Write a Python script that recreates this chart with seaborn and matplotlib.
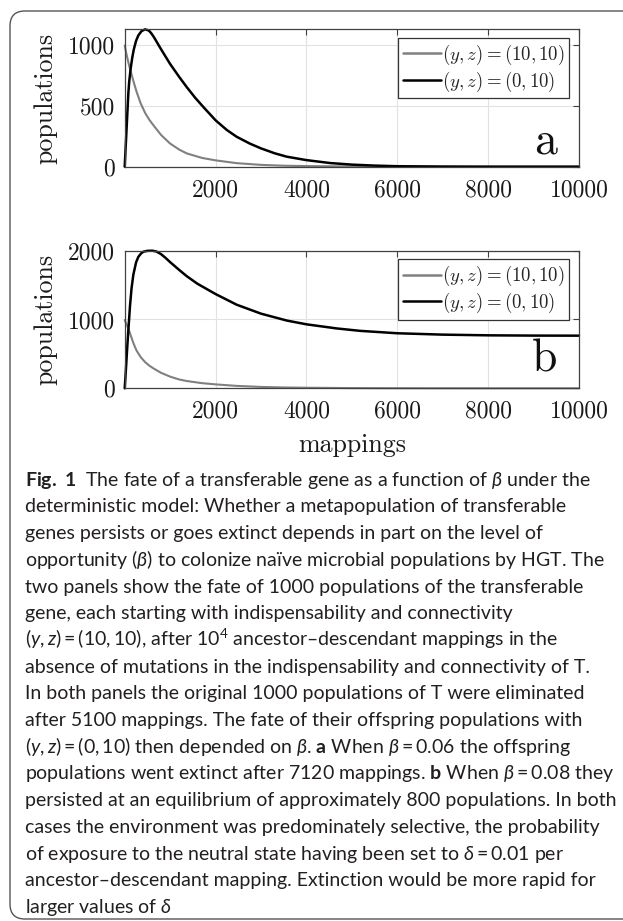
import matplotlib
matplotlib.use("Agg")
import matplotlib.pyplot as plt
import seaborn as sns
import numpy as np
import pandas as pd
from matplotlib.patches import FancyBboxPatch

# ---------------- data ----------------
x_ticks = [2000, 4000, 6000, 8000, 10000]
x_tick_labels = ["2000", "4000", "6000", "8000", "10000"]
legend_labels = [r"$(y,z) = (10,10)$", r"$(y,z) = (0,10)$"]

# panel a (beta = 0.06)
a_gray_x = [0, 40, 80, 117, 170, 220, 264, 350, 450, 540, 631, 800, 998, 1200, 1365, 1700, 2000, 2465, 3000,
            3500, 4000, 5000, 6000, 8000, 10000]
a_gray_y = [992, 920, 855, 802, 730, 665, 611, 520, 440, 385, 340, 260, 190, 140, 109, 72, 52, 29, 15,
            8, 5, 2, 0.5, 0, 0]
a_black_x = [0, 20, 40, 60, 80, 100, 130, 165, 200, 250, 300, 370, 448, 530, 580, 631, 700, 800, 998, 1200, 1365,
             1550, 1731, 2000, 2250, 2465, 2750, 3000, 3300, 3566, 4000, 4519, 5000, 5500, 6000, 7000, 8000, 10000]
a_black_y = [0, 150, 300, 450, 600, 700, 800, 890, 960, 1030, 1075, 1110, 1125, 1115, 1095, 1068, 1025, 962, 842,
             735, 652, 565, 489, 380, 300, 245, 190, 150, 110, 82, 54, 30, 17, 9, 4, 1, 0, 0]
a_yticks = [0, 500, 1000]

# panel b (beta = 0.08)
b_gray_x = [0, 30, 60, 90, 117, 150, 190, 230, 264, 350, 450, 540, 631, 800, 998, 1200, 1365, 1700, 2000, 2465,
            3000, 3500, 4000, 5000, 6000, 8000, 10000]
b_gray_y = [993, 945, 900, 850, 800, 735, 660, 595, 545, 455, 380, 330, 290, 225, 170, 128, 106, 75, 57, 35,
            20, 12, 8, 3, 1, 0, 0]
b_black_x = [0, 20, 40, 60, 81, 117, 150, 190, 250, 300, 360, 411, 500, 609, 700, 800, 900, 998, 1200, 1365,
             1600, 2000, 2465, 3000, 3566, 4000, 4668, 5180, 6000, 7000, 8000, 9000, 10000]
b_black_y = [0, 200, 420, 640, 850, 1200, 1450, 1650, 1830, 1910, 1960, 1985, 1998, 2000, 1988, 1950, 1895, 1835,
             1720, 1630, 1520, 1370, 1215, 1085, 985, 930, 870, 835, 800, 780, 770, 766, 765]
b_yticks = [0, 1000, 2000]

caption_lines = [
    r"$\mathbf{Fig.\ 1}$  The fate of a transferable gene as a function of $\beta$ under the",
    r"deterministic model: Whether a metapopulation of transferable",
    r"genes persists or goes extinct depends in part on the level of",
    r"opportunity ($\beta$) to colonize naïve microbial populations by HGT. The",
    r"two panels show the fate of 1000 populations of the transferable",
    r"gene, each starting with indispensability and connectivity",
    r"$(y,z) = (10,10)$, after $10^4$ ancestor–descendant mappings in the",
    r"absence of mutations in the indispensability and connectivity of T.",
    r"In both panels the original 1000 populations of T were eliminated",
    r"after 5100 mappings. The fate of their offspring populations with",
    r"$(y,z) = (0,10)$ then depended on $\beta$. $\mathbf{a}$ When $\beta = 0.06$ the offspring",
    r"populations went extinct after 7120 mappings. $\mathbf{b}$ When $\beta = 0.08$ they",
    r"persisted at an equilibrium of approximately 800 populations. In both",
    r"cases the environment was predominately selective, the probability",
    r"of exposure to the neutral state having been set to $\delta = 0.01$ per",
    r"ancestor–descendant mapping. Extinction would be more rapid for",
    r"larger values of $\delta$",
]

# ---------------- style ----------------
sns.set_style("white")
plt.rcParams["font.family"] = ["cmr10", "DejaVu Serif"]
plt.rcParams["axes.formatter.use_mathtext"] = True
plt.rcParams["mathtext.fontset"] = "custom"
plt.rcParams["mathtext.rm"] = "Lato"
plt.rcParams["mathtext.it"] = "Lato:italic"
plt.rcParams["mathtext.bf"] = "Lato:bold"

W, H = 623, 921
fig = plt.figure(figsize=(W / 100, H / 100), dpi=100, facecolor="white")


def rect(l, t, r, b):
    return [l / W, 1 - b / H, (r - l) / W, (b - t) / H]


FRAME = "#404040"
GRAY = "#808080"

panels = [
    dict(r=rect(124.7, 29.3, 579, 166.7), gx=a_gray_x, gy=a_gray_y, bx=a_black_x, by=a_black_y,
         ylim=(0, 1125), yt=a_yticks, letter="a", lb=153, legtop=37.7, ycen=98),
    dict(r=rect(124.7, 250.7, 579, 388.3), gx=b_gray_x, gy=b_gray_y, bx=b_black_x, by=b_black_y,
         ylim=(0, 2000), yt=b_yticks, letter="b", lb=371.7, legtop=259.3, ycen=319.5),
]

for p in panels:
    ax = fig.add_axes(p["r"])
    ax.set_facecolor("white")
    sns.lineplot(x=p["gx"], y=p["gy"], ax=ax, color=GRAY, linewidth=1.5, label=legend_labels[0])
    sns.lineplot(x=p["bx"], y=p["by"], ax=ax, color="black", linewidth=1.8, label=legend_labels[1])
    for ln in ax.get_lines():
        ln.set_clip_on(False)
        ln.set_solid_joinstyle("round")
    ax.set_xlim(0, 10000)
    ax.set_ylim(*p["ylim"])
    ax.set_xticks(x_ticks)
    ax.set_xticklabels(x_tick_labels)
    ax.set_yticks(p["yt"])
    ax.set_yticklabels([str(v) for v in p["yt"]])
    ax.grid(True, color="#e2e2e2", linewidth=0.8)
    ax.set_axisbelow(True)
    for s in ax.spines.values():
        s.set_visible(True)
        s.set_color(FRAME)
        s.set_linewidth(0.9)
    ax.tick_params(direction="in", top=True, right=True, length=4, width=0.8, color=FRAME,
                   labelsize=17, labelcolor="#1a1a1a")
    ax.tick_params(axis="x", pad=9)
    ax.tick_params(axis="y", pad=7)
    ax.set_xlabel("")
    ax.set_ylabel("")
    leg = ax.legend(loc="upper right", bbox_to_anchor=(569 / W, 1 - p["legtop"] / H),
                    bbox_transform=fig.transFigure, borderaxespad=0, fontsize=13.5,
                    handlelength=2.0, handletextpad=0.05, borderpad=0.25, labelspacing=0.15,
                    fancybox=False, framealpha=1, edgecolor="#333333")
    leg.get_frame().set_linewidth(0.9)
    for t in leg.get_texts():
        t.set_math_fontfamily("cm")
    for h in leg.get_lines():
        h.set_linewidth(1.8)
    fig.text(557 / W, 1 - p["lb"] / H, p["letter"], ha="right", va="baseline", fontsize=33, color="#111111")
    fig.text(46 / W, 1 - p["ycen"] / H, "populations", rotation=90, ha="center", va="center",
             fontsize=18.7, color="#1a1a1a")

fig.text(352 / W, 1 - 445 / H, "mappings", ha="center", va="center", fontsize=18.7, color="#1a1a1a")

# rounded frame around the figure
frame = FancyBboxPatch((0.10, (H - 919) / 100), 6.9, (919 - 11) / 100,
                       boxstyle="round,pad=0,rounding_size=0.15", transform=fig.dpi_scale_trans,
                       fill=False, edgecolor="#555555", linewidth=1.0)
fig.add_artist(frame)

# caption
cap_texts = []
for i, line in enumerate(caption_lines):
    t = fig.text(25 / W, 1 - (485.7 + i * 26.7) / H, line, ha="left", va="baseline",
                 fontsize=14, family="Lato", color="#231f20", math_fontfamily="custom")
    cap_texts.append(t)

fig.canvas.draw()
r = fig.canvas.get_renderer()
wmax = max(t.get_window_extent(r).width for t in cap_texts)
scale = 592.0 / wmax
for t in cap_texts:
    t.set_fontsize(14 * scale)

fig.savefig("out.png", dpi=100, facecolor="white")
